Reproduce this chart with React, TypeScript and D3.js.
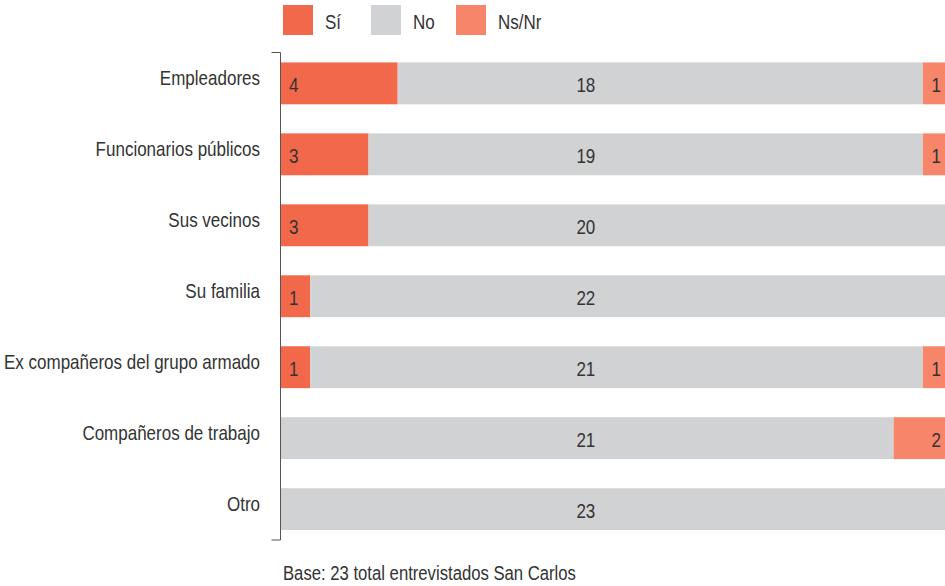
import React, { useEffect, useRef } from "react";
import * as d3 from "d3";

const categories = [
  "Empleadores",
  "Funcionarios públicos",
  "Sus vecinos",
  "Su familia",
  "Ex compañeros del grupo armado",
  "Compañeros de trabajo",
  "Otro",
];
const siValues = [4, 3, 3, 1, 1, 0, 0];
const noValues = [18, 19, 20, 22, 21, 21, 23];
const nsnrValues = [1, 1, 0, 0, 1, 2, 0];

const seriesKeys = ["si", "no", "nsnr"];
const seriesLabels = ["Sí", "No", "Ns/Nr"];
const seriesColors = ["#F2684A", "#D1D2D4", "#F6856A"];
const footnote = "Base: 23 total entrevistados San Carlos";

const WIDTH = 945;
const HEIGHT = 586;
const FONT = '"Liberation Sans", Arial, sans-serif';
// the original uses a condensed face; squeeze a regular one horizontally
const SQUEEZE = 0.81;

export default function App() {
  const svgRef = useRef<SVGSVGElement | null>(null);

  useEffect(() => {
    const svg = d3.select(svgRef.current);
    svg.selectAll("*").remove();

    const rows = categories.map((c, i) => ({
      category: c,
      si: siValues[i],
      no: noValues[i],
      nsnr: nsnrValues[i],
    }));
    const total = d3.max(rows, (d) => d.si + d.no + d.nsnr) as number;

    const x = d3.scaleLinear().domain([0, total]).range([281, 952]);
    const y = d3
      .scaleBand<string>()
      .domain(categories)
      .range([52.5, 540])
      .paddingInner(0.41)
      .paddingOuter(0.14);

    const stacked = d3.stack<any>().keys(seriesKeys)(rows);

    const place = (px: number, py: number) =>
      `translate(${px},${py}) scale(${SQUEEZE},1)`;
    const textStyle = (sel: any, size = 21) =>
      sel.attr("font-family", FONT).attr("font-size", size).attr("fill", "#333");

    // bars
    const g = svg.append("g");
    stacked.forEach((layer, li) => {
      g.selectAll(`.bar-${li}`)
        .data(layer.filter((d) => d[1] - d[0] > 0))
        .join("rect")
        .attr("x", (d) => x(d[0]))
        .attr("y", (d) => y(d.data.category)!)
        .attr("width", (d) => x(d[1]) - x(d[0]))
        .attr("height", y.bandwidth())
        .attr("fill", seriesColors[li]);
    });

    // value labels
    const labelY = (d: any) => y(d.data.category)! + y.bandwidth() / 2 + 8.5;

    g.selectAll(".lab-si")
      .data(stacked[0].filter((d) => d[1] - d[0] > 0))
      .join("text")
      .attr("transform", (d) => place(x(d[0]) + 8, labelY(d)))
      .text((d) => d[1] - d[0])
      .call(textStyle);

    g.selectAll(".lab-no")
      .data(stacked[1].filter((d) => d[1] - d[0] > 0))
      .join("text")
      .attr("transform", (d) => place(x(10.45), labelY(d)))
      .attr("text-anchor", "middle")
      .text((d) => d[1] - d[0])
      .call(textStyle);

    g.selectAll(".lab-nsnr")
      .data(stacked[2].filter((d) => d[1] - d[0] > 0))
      .join("text")
      .attr("transform", (d) => place(x(d[1]) - 11, labelY(d)))
      .attr("text-anchor", "end")
      .text((d) => d[1] - d[0])
      .call(textStyle);

    // category axis bracket
    const [r0, r1] = y.range();
    svg
      .append("path")
      .attr("d", `M271.5,${r0}H280.5V${r1}H271.5`)
      .attr("fill", "none")
      .attr("stroke", "#555")
      .attr("stroke-width", 1);

    svg
      .append("g")
      .selectAll("text")
      .data(categories)
      .join("text")
      .attr("transform", (d) => place(260, y(d)! + y.bandwidth() / 2 + 1.5))
      .attr("text-anchor", "end")
      .text((d) => d)
      .call(textStyle);

    // legend
    const legendX = [283, 371, 456];
    const legend = svg
      .append("g")
      .selectAll("g")
      .data(seriesLabels)
      .join("g")
      .attr("transform", (_, i) => `translate(${legendX[i]},5)`);
    legend
      .append("rect")
      .attr("width", 30)
      .attr("height", 30)
      .attr("fill", (_, i) => seriesColors[i]);
    legend
      .append("text")
      .attr("transform", place(42, 24))
      .text((d) => d)
      .call(textStyle);

    // footnote
    svg
      .append("text")
      .attr("transform", place(283, 580))
      .text(footnote)
      .call(textStyle, 20.6);
  }, []);

  return (
    <svg
      ref={svgRef}
      width={WIDTH}
      height={HEIGHT}
      style={{ position: "absolute", left: 0, top: 0, background: "#fff" }}
    />
  );
}
